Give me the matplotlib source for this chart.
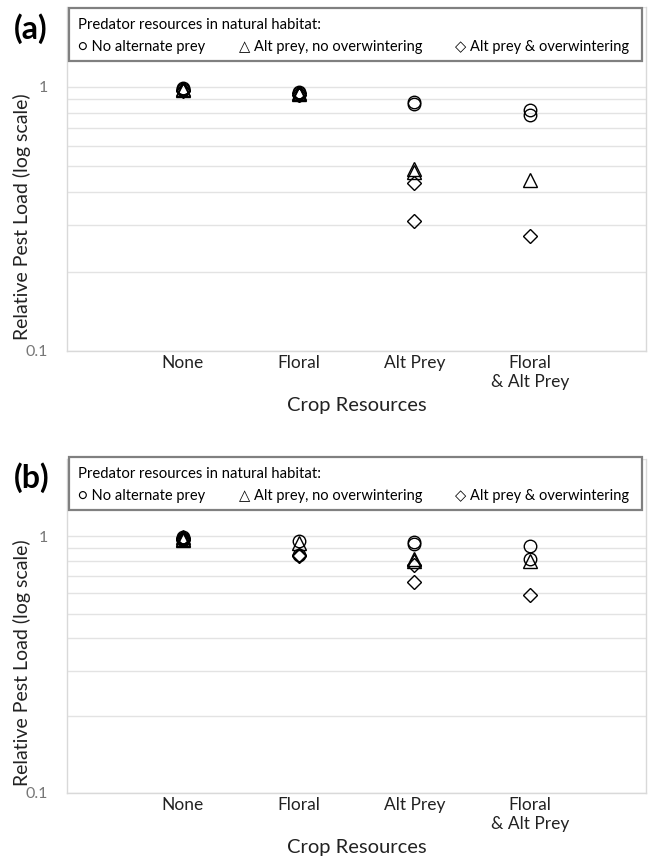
import matplotlib.pyplot as plt
from matplotlib.ticker import LogLocator, NullFormatter, FixedLocator, FixedFormatter
from matplotlib.patches import Rectangle

plt.rcParams['font.family'] = ['Lato', 'DejaVu Sans']

# ---------------------------------------------------------
# data
# ---------------------------------------------------------
categories = ["None", "Floral", "Alt Prey", "Floral\n& Alt Prey"]
legend_labels = ["\u25CB No alternate prey", "\u25B3 Alt prey, no overwintering",
                 "\u25C7 Alt prey & overwintering"]
legend_title = "Predator resources in natural habitat:"

# panel (a)
a_no_alt = [[0.99, 0.98, 0.97], [0.96, 0.95, 0.93], [0.875, 0.865], [0.815, 0.783]]
a_alt_no_ow = [[0.98, 0.97], [0.95, 0.94], [0.49, 0.475], [0.443]]
a_alt_ow = [[0.975, 0.965], [0.945, 0.935], [0.433, 0.31], [0.272]]

# panel (b)
b_no_alt = [[0.995, 0.985, 0.975, 0.965], [0.955, 0.845], [0.95, 0.935], [0.915, 0.815]]
b_alt_no_ow = [[0.99, 0.98, 0.97], [0.945], [0.815, 0.80], [0.80]]
b_alt_ow = [[0.985, 0.975, 0.965], [0.845, 0.84], [0.77, 0.665], [0.588]]

markers = ["o", "^", "D"]
msizes = [9, 9.5, 7]

W, H = 649, 856
fig = plt.figure(figsize=(W / 100, H / 100), dpi=100)


def px(x, y):
    # pixel position (from top-left) -> figure fraction
    return x / W, 1 - y / H


def make_panel(top_px, bottom_px, series, tag, leg_top):
    left_px, right_px = 67, 646
    ax = fig.add_axes([left_px / W, 1 - bottom_px / H,
                       (right_px - left_px) / W, (bottom_px - top_px) / H])
    for vals, m, ms in zip(series, markers, msizes):
        for i, group in enumerate(vals):
            ax.plot([i + 1] * len(group), group, linestyle="none", marker=m,
                    markersize=ms, markerfacecolor="none", markeredgecolor="black",
                    markeredgewidth=1.0, zorder=3)
    ax.set_yscale("log")
    ax.set_ylim(0.1, 2)
    ax.set_xlim(0, 5)
    ax.yaxis.set_major_locator(FixedLocator([0.1, 1]))
    ax.yaxis.set_major_formatter(FixedFormatter(["0.1", "1"]))
    ax.yaxis.set_minor_locator(LogLocator(base=10, subs=range(2, 10)))
    ax.yaxis.set_minor_formatter(NullFormatter())
    ax.grid(True, which="both", axis="y", color="#e3e3e3", linewidth=1.0, zorder=0)
    ax.set_xticks(range(1, 5))
    ax.set_xticklabels(categories, fontsize=12.5, color="#222222")
    ax.tick_params(axis="both", which="both", length=0)
    ax.tick_params(axis="y", labelsize=11.5, labelcolor="#777777", pad=14)
    ax.tick_params(axis="x", pad=3)
    for s in ax.spines.values():
        s.set_color("#d9d9d9")
        s.set_linewidth(1.0)
    ax.spines["top"].set_visible(False)
    ax.set_ylabel("Relative Pest Load (log scale)", fontsize=14, color="#222222")
    ax.yaxis.set_label_coords(-0.062, 0.39)
    ax.set_xlabel("Crop Resources", fontsize=14.5, color="#222222", labelpad=5)

    # legend drawn as a box with text, like the original
    x0, y0 = px(69, leg_top)
    x1, y1 = px(642, leg_top + 53)
    fig.patches.append(Rectangle((x0, y1), x1 - x0, y0 - y1, transform=fig.transFigure,
                                 facecolor="white", edgecolor="#808080", linewidth=1.6,
                                 zorder=5))
    fig.text(*px(78, leg_top + 17), legend_title, fontsize=10.7, va="center", ha="left",
             zorder=6)
    for xpos, lab in zip([78, 239, 455], legend_labels):
        fig.text(*px(xpos, leg_top + 39), lab, fontsize=10.5, va="center", ha="left",
                 zorder=6)
    fig.text(*px(14, leg_top + 21), tag, fontsize=23, fontweight="bold",
             va="center", ha="left")
    return ax


make_panel(7.5, 351, [a_no_alt, a_alt_no_ow, a_alt_ow], "(a)", 8)
make_panel(459, 793, [b_no_alt, b_alt_no_ow, b_alt_ow], "(b)", 457)

fig.savefig("out.png", dpi=100)
